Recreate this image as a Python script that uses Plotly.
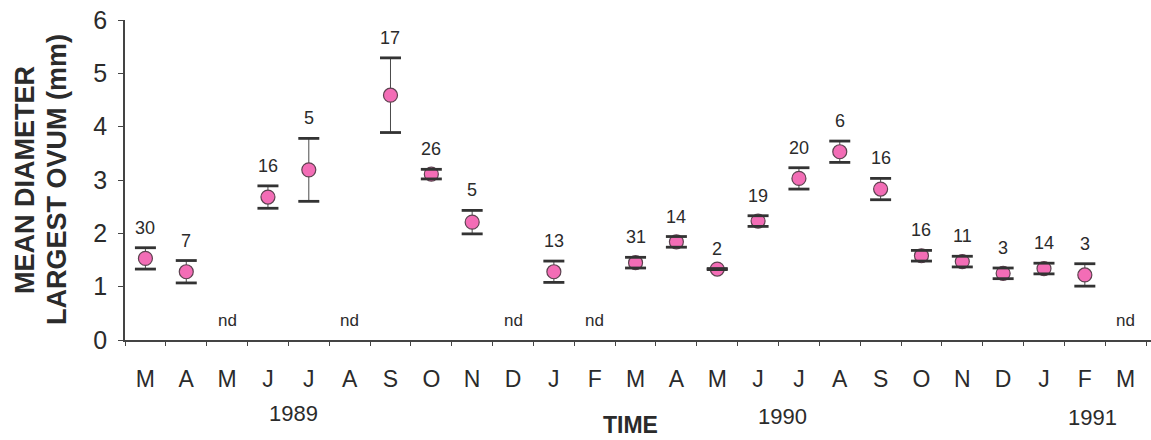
import plotly.graph_objects as go

months = ["M", "A", "M", "J", "J", "A", "S", "O", "N", "D", "J", "F",
          "M", "A", "M", "J", "J", "A", "S", "O", "N", "D", "J", "F", "M"]
means = [1.53, 1.28, None, 2.68, 3.19, None, 4.59, 3.11, 2.21, None, 1.28, None,
         1.45, 1.84, 1.33, 2.23, 3.03, 3.53, 2.83, 1.58, 1.47, 1.25, 1.34, 1.22, None]
errs = [0.20, 0.21, None, 0.21, 0.59, None, 0.70, 0.09, 0.22, None, 0.20, None,
        0.10, 0.10, 0.01, 0.10, 0.20, 0.20, 0.20, 0.10, 0.10, 0.10, 0.10, 0.21, None]
counts = [30, 7, None, 16, 5, None, 17, 26, 5, None, 13, None,
          31, 14, 2, 19, 20, 6, 16, 16, 11, 3, 14, 3, None]
years = ["1989", "1990", "1991"]
year_pos = [3.62, 15.6, 23.19]
year_px = [413, 416, 417]
y_ticks = [0, 1, 2, 3, 4, 5, 6]
y_title_lines = ["MEAN DIAMETER", "LARGEST OVUM (mm)"]
y_title_px = [25, 57]

FONT = "Liberation Sans, Arial, sans-serif"
TXT = "#2b2b2b"

xs = list(range(len(months)))
px = [i for i in xs if means[i] is not None]
py = [means[i] for i in px]
pe = [errs[i] for i in px]

fig = go.Figure()
# stems
fig.add_trace(go.Scatter(
    x=px, y=py, mode="markers",
    marker=dict(size=1, color="rgba(0,0,0,0)"),
    error_y=dict(type="data", array=pe, visible=True, thickness=1, width=0, color="#4a4a4a"),
    hoverinfo="skip", showlegend=False))
# points
fig.add_trace(go.Scatter(
    x=px, y=py, mode="markers",
    marker=dict(size=14, color="#F36DB6", line=dict(color="#5e4250", width=1.2)),
    showlegend=False))
# caps
cap_x = px + px
cap_y = [m + e for m, e in zip(py, pe)] + [m - e for m, e in zip(py, pe)]
fig.add_trace(go.Scatter(
    x=cap_x, y=cap_y, mode="markers",
    marker=dict(symbol="line-ew", size=15, line=dict(color="#333333", width=2.8)),
    hoverinfo="skip", showlegend=False))

ann = []
for i in px:
    ann.append(dict(x=i, y=means[i] + errs[i], xref="x", yref="y", text=str(counts[i]),
                    showarrow=False, yshift=20, yanchor="middle",
                    font=dict(family=FONT, size=18, color=TXT)))
for i in xs:
    if means[i] is None:
        ann.append(dict(x=i, y=0.36, xref="x", yref="y", text="nd", showarrow=False,
                        yanchor="middle", font=dict(family=FONT, size=17, color=TXT)))
for t, xp, yp in zip(years, year_pos, year_px):
    ann.append(dict(x=xp, y=0, xref="x", yref="paper", text=t, showarrow=False,
                    yanchor="middle", yshift=-(yp - 340),
                    font=dict(family=FONT, size=22, color=TXT)))
ann.append(dict(x=11.88, y=0, xref="x", yref="paper", text="<b>TIME</b>", showarrow=False,
                yanchor="middle", yshift=-(425 - 340),
                font=dict(family=FONT, size=23, color=TXT)))
for t, xp in zip(y_title_lines, y_title_px):
    ann.append(dict(x=0, y=0.5, xref="paper", yref="paper",
                    text="<b>" + t + "</b>", showarrow=False,
                    textangle=-90, xanchor="center", yanchor="middle", xshift=xp - 125,
                    font=dict(family=FONT, size=27, color=TXT)))

fig.update_layout(
    width=1151, height=440,
    margin=dict(l=125, r=0, t=20, b=100),
    plot_bgcolor="white", paper_bgcolor="white",
    annotations=ann,
    xaxis=dict(range=[-0.5, 24.62], tickmode="array", tickvals=xs, ticktext=months,
               ticks="", showgrid=False, zeroline=False, showline=True,
               linecolor="#444444", linewidth=1.5,
               tickfont=dict(family=FONT, size=23, color=TXT), ticklabelstandoff=18,
               minor=dict(tickmode="array", tickvals=[i - 0.5 for i in xs] + [24.5],
                          ticks="outside", ticklen=4, tickcolor="#444444", tickwidth=1.2),
               fixedrange=True),
    yaxis=dict(range=[0, 6], tickmode="array", tickvals=y_ticks,
               ticks="outside", ticklen=5, tickcolor="#444444", tickwidth=1.2,
               showgrid=False, zeroline=False, showline=True,
               linecolor="#444444", linewidth=1.5,
               tickfont=dict(family=FONT, size=25, color=TXT), ticklabelstandoff=6,
               fixedrange=True),
)

fig.write_html("out.html")
